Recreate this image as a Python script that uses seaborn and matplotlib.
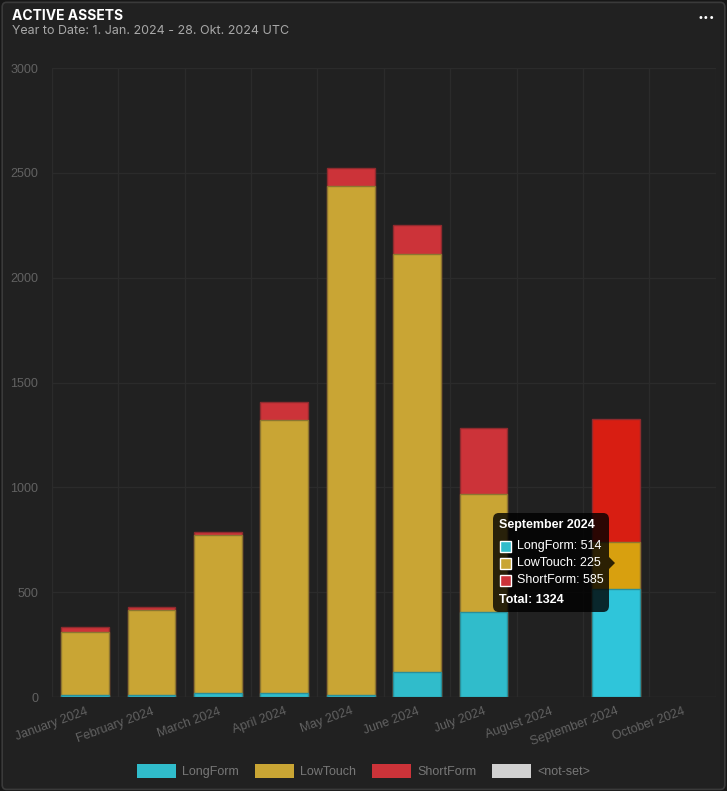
import pandas as pd
import matplotlib
matplotlib.use("Agg")
import matplotlib.pyplot as plt
import seaborn as sns
from matplotlib.patches import FancyBboxPatch, Patch, Rectangle, Polygon

# data
months = ["January 2024", "February 2024", "March 2024", "April 2024", "May 2024",
          "June 2024", "July 2024", "August 2024", "September 2024", "October 2024"]
long_form = [8, 8, 18, 18, 10, 119, 405, 0, 514, 0]
low_touch = [302, 407, 755, 1303, 2427, 1994, 563, 0, 225, 0]
short_form = [24, 14, 14, 86, 86, 138, 315, 0, 585, 0]
series = ["LongForm", "LowTouch", "ShortForm", "<not-set>"]
y_ticks = [0, 500, 1000, 1500, 2000, 2500, 3000]

df = pd.DataFrame({"Month": months, "LongForm": long_form,
                   "LowTouch": low_touch, "ShortForm": short_form})
df["lt_top"] = df["LongForm"] + df["LowTouch"]
df["total"] = df["lt_top"] + df["ShortForm"]

colors = {"LongForm": "#30bccb", "LowTouch": "#c9a534", "ShortForm": "#cc3339", "<not-set>": "#d0d0d0"}
edges = {"LongForm": "#2a8f9a", "LowTouch": "#8c7630", "ShortForm": "#8e2a2e"}
hover = {"LongForm": "#2fc5da", "LowTouch": "#d8a00f", "ShortForm": "#d81e12"}
hovered = "September 2024"

bg = "#212121"
sns.set_theme(style="dark")
plt.rcParams["font.family"] = ["Liberation Sans", "DejaVu Sans"]

fig = plt.figure(figsize=(7.27, 7.91), dpi=100)
fig.patch.set_facecolor("#171717")
card = FancyBboxPatch((0.003, 0.002), 0.994, 0.995, boxstyle="round,pad=0,rounding_size=0.006",
                      transform=fig.transFigure, facecolor=bg, edgecolor="#3a3a3a", lw=1.2,
                      zorder=-5)
fig.patches.append(card)

ax = fig.add_axes([0.0715, 0.1188, 0.913, 0.7952])
ax.set_facecolor(bg)

# stacked bars: draw cumulative heights back to front
for col, name in [("total", "ShortForm"), ("lt_top", "LowTouch"), ("LongForm", "LongForm")]:
    pal = {m: (hover[name] if m == hovered else colors[name]) for m in months}
    sns.barplot(data=df, x="Month", y=col, hue="Month", palette=pal, legend=False,
                width=0.72, edgecolor=edges[name], linewidth=1.0, saturation=1, ax=ax)
# empty months get no outline
for p in ax.patches:
    if p.get_height() == 0:
        p.set_linewidth(0)

ax.set_xlim(-0.5, len(months) - 0.5)
ax.set_ylim(0, 3000)
ax.set_yticks(y_ticks)
ax.set_yticklabels([str(t) for t in y_ticks])
ax.set_xticks(range(len(months)))
ax.set_xticklabels(months, rotation=20, ha="right", rotation_mode="anchor")
ax.set_xticks([i + 0.5 for i in range(-1, len(months))], minor=True)
ax.tick_params(axis="both", which="both", length=0, colors="#626262", labelsize=9)
ax.tick_params(axis="y", pad=10)
ax.tick_params(axis="x", pad=6)
ax.grid(False)
ax.grid(True, which="minor", axis="x", color="#2b2b2b", lw=1)
ax.grid(True, which="major", axis="y", color="#2b2b2b", lw=1)
ax.set_axisbelow(True)
ax.set_xlabel("")
ax.set_ylabel("")
for s in ax.spines.values():
    s.set_visible(False)
ax.axhline(0, color="#303030", lw=1, zorder=0.5)

# title block
fig.text(12 / 727, 1 - 16 / 791, "ACTIVE ASSETS", color="white", fontsize=10,
         fontweight="bold", family=["Inter", "DejaVu Sans"], va="center")
fig.text(12 / 727, 1 - 31 / 791, "Year to Date: 1. Jan. 2024 - 28. Okt. 2024 UTC",
         color="#a8a8a8", fontsize=9, family=["Inter", "DejaVu Sans"], va="center")
fig.text(706 / 727, 1 - 18 / 791, "\u2022\u2022\u2022", color="white", fontsize=7,
         family=["DejaVu Sans"], ha="center", va="center")

# hover tooltip
tx0, ty0, tw, th = 493 / 727, 1 - 612 / 791, 116 / 727, 99 / 791
fig.patches.append(FancyBboxPatch((tx0, ty0), tw, th, boxstyle="round,pad=0,rounding_size=0.008",
                                  transform=fig.transFigure, facecolor="#000000", alpha=0.8,
                                  edgecolor="none", zorder=5))
fig.patches.append(Polygon([[609 / 727, 1 - 557 / 791], [615 / 727, 1 - 563 / 791],
                            [609 / 727, 1 - 569 / 791]], closed=True, transform=fig.transFigure,
                           facecolor="#000000", alpha=0.8, edgecolor="none", zorder=5))
tfam = ["Liberation Sans", "DejaVu Sans"]
fig.text(499 / 727, 1 - 525 / 791, "September 2024", color="white", fontsize=9,
         fontweight="bold", family=tfam, va="center", zorder=6)
i = months.index(hovered)
vals = [long_form[i], low_touch[i], short_form[i]]
for k, (name, v) in enumerate(zip(series[:3], vals)):
    yy = 546 + k * 17
    fig.patches.append(Rectangle((500 / 727, 1 - (yy + 6) / 791), 11 / 727, 11 / 791,
                                 transform=fig.transFigure, facecolor=colors[name],
                                 edgecolor="white", lw=1, zorder=6))
    fig.text(517 / 727, 1 - yy / 791, f"{name}: {v}", color="white", fontsize=9,
             family=tfam, va="center", zorder=6)
fig.text(499 / 727, 1 - 600 / 791, f"Total: {sum(vals)}", color="white", fontsize=9,
         fontweight="bold", family=tfam, va="center", zorder=6)

# legend
handles = [Patch(facecolor=colors[s], edgecolor="none", label=s) for s in series]
leg = fig.legend(handles=handles, loc="center", bbox_to_anchor=(0.5, 1 - 771 / 791), ncol=4,
                 frameon=False, fontsize=9, labelcolor="#777777", handlelength=3.1,
                 handleheight=1.3, handletextpad=0.5, columnspacing=1.3)

fig.savefig("out.png", dpi=100, facecolor=fig.get_facecolor())
